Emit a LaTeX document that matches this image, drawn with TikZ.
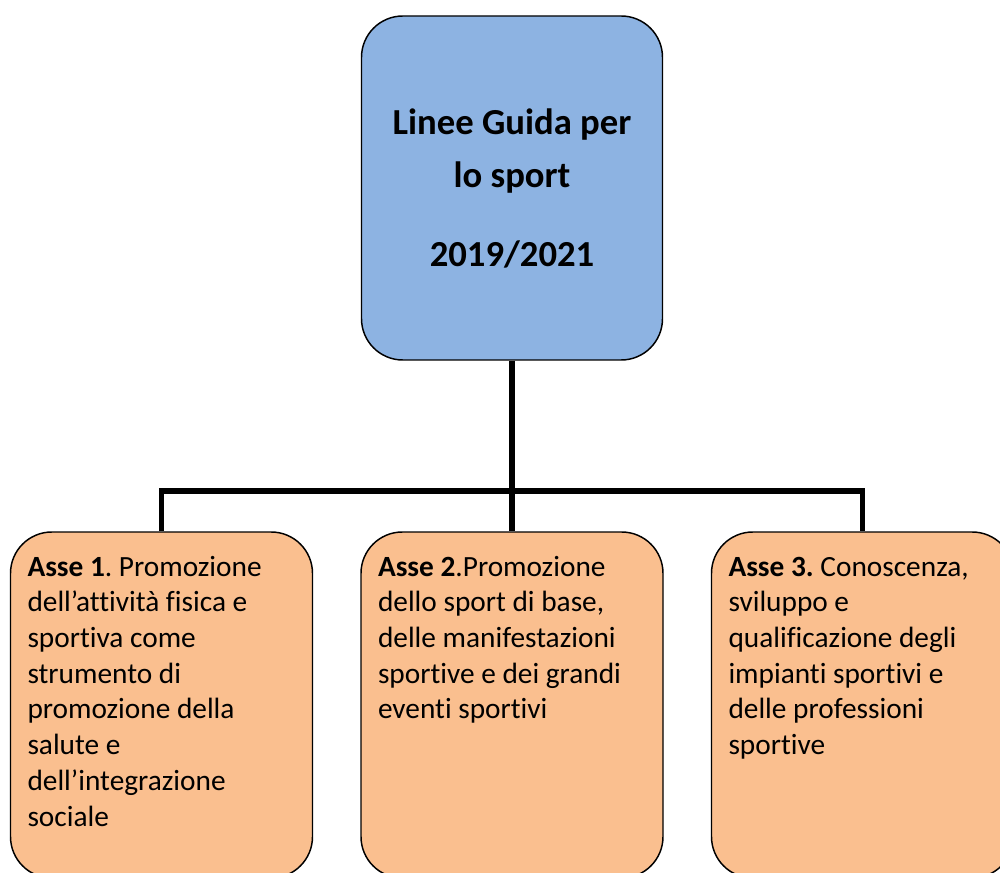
\documentclass[tikz,border=0pt]{standalone}
\usepackage{fontspec}
\setmainfont{Carlito}[Ligatures=NoCommon]
\usetikzlibrary{shapes}
\definecolor{skyblue}{RGB}{141,179,226}
\definecolor{paleorange}{RGB}{250,191,143}
\tikzstyle{guidebox} = [rectangle, draw, fill=skyblue, line width=1.1pt,
    align=center, rounded corners=31pt, minimum width=225.75pt,
    minimum height=258pt, font=\fontsize{27.5}{39.75}\selectfont\bfseries]
\tikzstyle{axisbox} = [rectangle, draw, fill=paleorange, line width=1.1pt,
    rounded corners=31pt, inner xsep=12.75pt, inner ysep=0pt,
    font=\fontsize{22}{26.8}\selectfont]
\tikzstyle{link} = [draw, line width=4.1pt]
\newcommand{\axistext}[1]{\parbox[c][259.5pt][t]{201pt}{\frenchspacing\raggedright\rule{0pt}{33pt}#1}}

\begin{document}
\begin{tikzpicture}[x=0.75pt, y=-0.75pt, node distance = 262.875pt]
    \useasboundingbox (0,0) rectangle (1000,873);
    \node[guidebox] (guide) at (512,188) {Linee Guida per\\lo sport\\[19.5pt]2019/2021};
    \node[axisbox, below of=guide, node distance = 387.75pt] (asse2)
        {\axistext{\textbf{Asse 2}.Promozione\\dello sport di base,\\delle manifestazioni\\sportive e dei grandi\\eventi sportivi}};
    \node[axisbox, left of=asse2] (asse1)
        {\axistext{\textbf{Asse 1}. Promozione\\dell’attività fisica e\\sportiva come\\strumento di\\promozione della\\salute e\\dell’integrazione\\sociale}};
    \node[axisbox, right of=asse2] (asse3)
        {\axistext{\textbf{Asse 3.} Conoscenza,\\sviluppo e\\qualificazione degli\\impianti sportivi e\\delle professioni\\sportive}};
    \coordinate[below of=guide, node distance = 227.25pt] (fork);

    \path [link] (guide) -- (fork);
    \path [link] (asse1.north) |- (fork) -| (asse3.north);
    \path [link] (fork) -- (asse2);
\end{tikzpicture}
\end{document}
